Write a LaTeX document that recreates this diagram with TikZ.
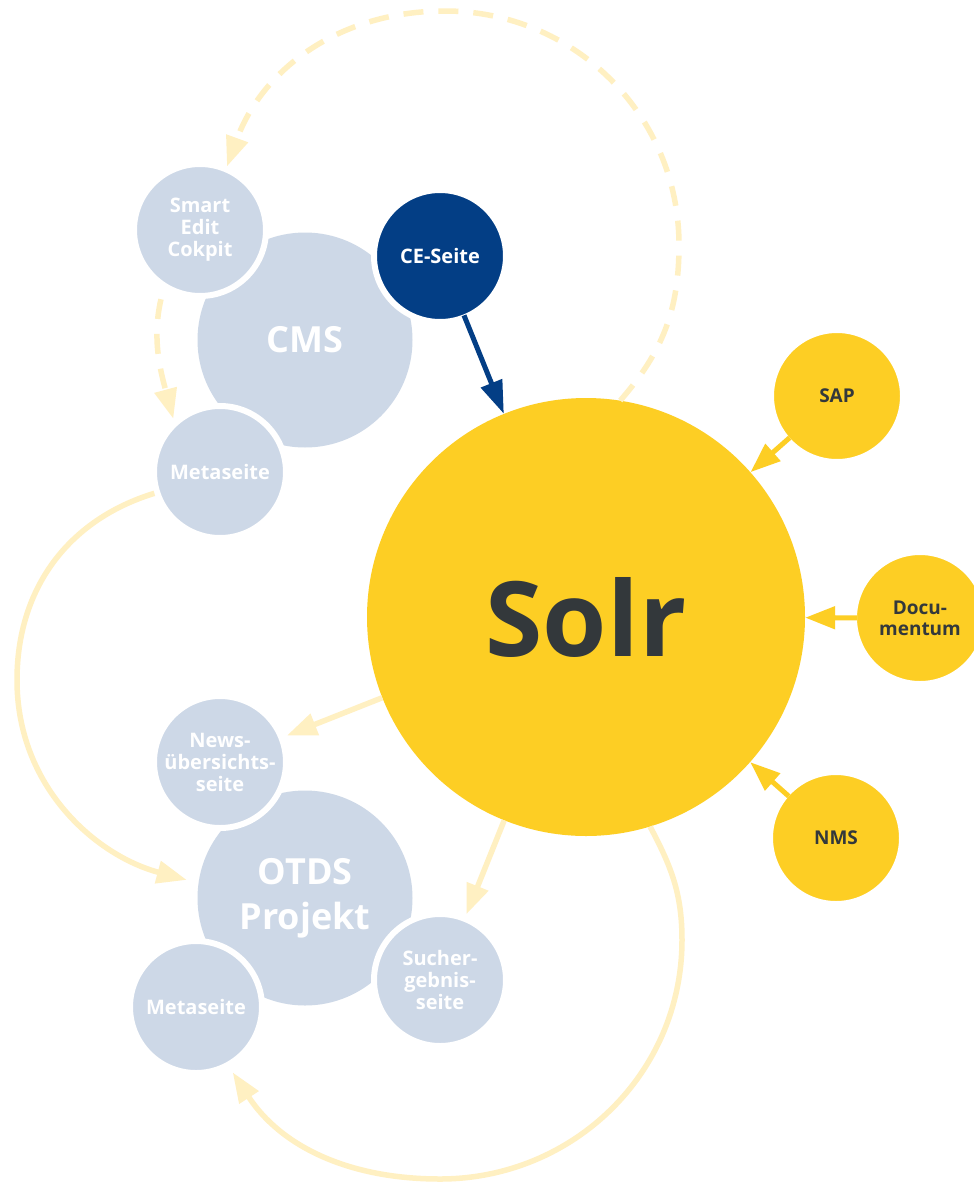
\documentclass[tikz,border=0pt]{standalone}
\usepackage{fontspec}
\setmainfont{Open Sans}
\usetikzlibrary{arrows.meta}
\definecolor{solryellow}{HTML}{FDCE24}
\definecolor{cmsblue}{HTML}{CDD8E7}
\definecolor{ceblue}{HTML}{033E85}
\definecolor{paleyellow}{HTML}{FFF0C2}
\definecolor{labelgrey}{HTML}{33383B}
\tikzset{bignode/.style={
    % the large grey-blue systems
    circle,
    inner sep=0pt,
    minimum size=215pt,
    fill=cmsblue,
    text=white,
    align=center,
    font=\bfseries\fontsize{36}{45}\selectfont
    },
    smallnode/.style={
    circle,
    inner sep=0pt,
    minimum size=132pt,
    draw=white,
    line width=6pt,
    fill=cmsblue,
    text=white,
    align=center,
    font=\bfseries\fontsize{20}{22}\selectfont
    },
    cenode/.style={smallnode,fill=ceblue},
    sourcenode/.style={smallnode,fill=solryellow,text=labelgrey,
    font=\bfseries\fontsize{19}{21}\selectfont},
    solrnode/.style={
    circle,
    inner sep=0pt,
    minimum size=438pt,
    fill=solryellow,
    text=labelgrey,
    font=\bfseries\fontsize{104}{110}\selectfont
    },
    flow/.style={draw=paleyellow,line width=5.5pt,-{Triangle[length=30pt,width=22pt]}},
    dashflow/.style={flow,dash pattern=on 20pt off 15pt},
    feed/.style={draw=solryellow,line width=5pt,-{Triangle[length=30pt,width=22pt]}},
    push/.style={draw=ceblue,line width=5pt,-{Triangle[length=33pt,width=22pt]}},
}

\begin{document}
\begin{tikzpicture}[x=1pt,y=1pt]
    \useasboundingbox (0,0) rectangle (974,-1183);
    \fill[white] (0,0) rectangle (974,-1183);

    \node (cms)        [bignode]    at (305,-340)  {CMS};
    \node (otds)       [bignode]    at (305,-898)  {OTDS\\Projekt};

    \node (smartedit)  [smallnode]  at (200,-230)  {Smart\\Edit\\Cokpit};
    \node (ceseite)    [cenode]     at (440,-256)  {CE-Seite};
    \node (metacms)    [smallnode]  at (220,-472)  {Metaseite};
    \node (news)       [smallnode]  at (220,-762)  {News-\\übersichts-\\seite};
    \node (suche)      [smallnode]  at (440,-980)  {Sucher-\\gebnis-\\seite};
    \node (metaotds)   [smallnode]  at (196,-1007) {Metaseite};

    \node (solr)       [solrnode]   at (586,-617)  {Solr};
    \node (sap)        [sourcenode] at (837,-396)  {SAP};
    \node (documentum) [sourcenode] at (920,-618)  {Docu-\\mentum};
    \node (nms)        [sourcenode] at (836,-838)  {NMS};

    % editing loop
    \draw [dashflow] (solr.81) to[out=49,in=-90] (679,-245) to[out=90,in=0] (445,-11)
        to[out=180,in=70] (smartedit.67);
    \draw [dashflow,shorten <=11pt,shorten >=2pt] (smartedit.238) to[out=-103,in=105] (metacms.132);
    \draw [flow,shorten >=12pt] (metacms.198) to[out=197,in=90] (17,-680)
        to[out=-90,in=165] (otds.172);

    % output of the index
    \draw [flow,shorten >=3pt] (solr) -- (news);
    \draw [flow,shorten >=2pt] (solr) -- (suche);
    \draw [flow,shorten >=6pt] (solr.-73) to[out=-62,in=90] (682,-940) to[out=-90,in=0] (440,-1179)
        to[out=180,in=-57] (metaotds.-61);

    % sources
    \draw [push,shorten <=-5pt] (ceseite) -- (solr);
    \draw [feed,shorten <=-6pt] (sap) -- (solr);
    \draw [feed,shorten <=-6pt] (documentum) -- (solr);
    \draw [feed,shorten <=-6pt] (nms) -- (solr);
\end{tikzpicture}
\end{document}
